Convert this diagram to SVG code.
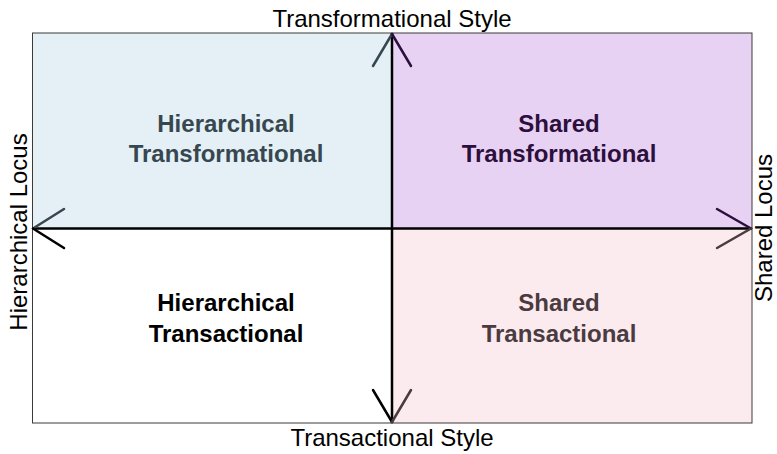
<svg xmlns="http://www.w3.org/2000/svg" width="777" height="454" viewBox="0 0 777 454">
<style>
.q{stroke:#3a3a3a;stroke-width:1}
.qt{font-family:"Liberation Sans",Arial,sans-serif;font-size:24px;font-weight:bold;text-anchor:middle}
.lbl{font-family:"Liberation Sans",Arial,sans-serif;font-size:24px;fill:#000;text-anchor:middle}
.ax{stroke:#000;stroke-width:2.5;fill:none}
.ah{stroke-width:2.5;fill:none;stroke-linecap:round}
</style>
<rect width="777" height="454" fill="#fff"/>
<g id="hier-transformational">
<rect class="q" x="32.5" y="33" width="359.5" height="195.5" fill="#e4f0f6"/>
<text class="qt" fill="#37474f" x="226" y="132">Hierarchical</text>
<text class="qt" fill="#37474f" x="226" y="162">Transformational</text>
</g>
<g id="shared-transformational">
<rect class="q" x="392" y="33" width="360" height="195.5" fill="#e7d2f4"/>
<text class="qt" fill="#2d0f3d" x="559" y="132">Shared</text>
<text class="qt" fill="#2d0f3d" x="559" y="162">Transformational</text>
</g>
<g id="hier-transactional">
<rect class="q" x="32.5" y="228.5" width="359.5" height="194.5" fill="#ffffff"/>
<text class="qt" fill="#000000" x="226" y="311">Hierarchical</text>
<text class="qt" fill="#000000" x="226" y="342">Transactional</text>
</g>
<g id="shared-transactional">
<rect class="q" x="392" y="228.5" width="360" height="194.5" fill="#fbeaee"/>
<text class="qt" fill="#4a3b40" x="559" y="311">Shared</text>
<text class="qt" fill="#4a3b40" x="559" y="342">Transactional</text>
</g>
<g id="axis-labels">
<text class="lbl" x="392" y="27">Transformational Style</text>
<text class="lbl" x="392" y="446">Transactional Style</text>
<text class="lbl" transform="translate(27,232) rotate(-90)">Hierarchical Locus</text>
<text class="lbl" transform="translate(772,228) rotate(-90)">Shared Locus</text>
</g>
<g id="connectors">
<line class="ax" x1="392" y1="33" x2="392" y2="423"/>
<line class="ax" x1="32.5" y1="228.5" x2="752" y2="228.5"/>
<polyline class="ah" stroke="#37474f" points="373,66 392,34"/>
<polyline class="ah" stroke="#2d0f3d" points="392,34 411,66"/>
<polyline class="ah" stroke="#000" points="373,390 392,422"/>
<polyline class="ah" stroke="#4a3b40" points="392,422 411,390"/>
<polyline class="ah" stroke="#37474f" points="64,209 33,228.5"/>
<polyline class="ah" stroke="#000" points="33,228.5 64,248"/>
<polyline class="ah" stroke="#2d0f3d" points="717,209 751,228.5"/>
<polyline class="ah" stroke="#4a3b40" points="751,228.5 717,248"/>
</g>
</svg>
